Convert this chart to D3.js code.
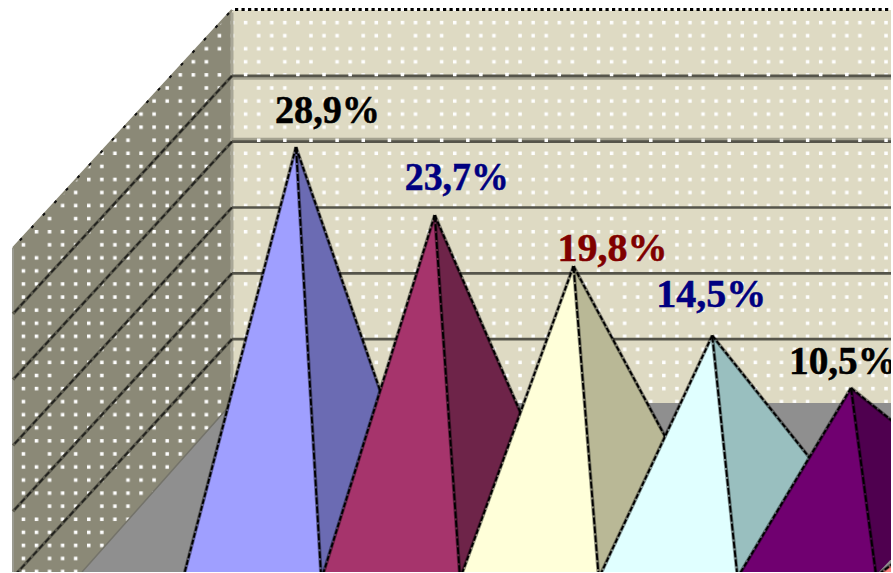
<!DOCTYPE html>
<html>
<head>
<meta charset="utf-8">
<script src="https://cdn.jsdelivr.net/npm/d3@7"></script>
<style>
  html, body { margin: 0; padding: 0; background: #fff; overflow: hidden; }
  svg { display: block; }
  text { font-family: "Liberation Serif", serif; font-weight: bold; font-size: 39px; }
</style>
</head>
<body>
<svg id="chart" width="893" height="573"></svg>
<script>
// Chart data
const slices = ["s1", "s2", "s3", "s4", "s5", "s6"];
const values = [28.9, 23.7, 19.8, 14.5, 10.5, 2.6];
const labels = ["28,9%", "23,7%", "19,8%", "14,5%", "10,5%"];
const gridTicks = [30, 25, 20, 15, 10];

// Colours
const leftFaces = ["#9f9fff", "#a6346c", "#ffffd9", "#e0ffff", "#700070", "#ff8080"];
const rightFaces = ["#6b6bb3", "#6e2449", "#b9b896", "#99bfbf", "#4f004f", "#b35a5a"];
const labelColors = ["#000000", "#000080", "#800000", "#000080", "#000000"];

// Labels were placed by hand in the original
const labelDx = [-21, -30, -16, -56, -62];
const labelDy = [-24, -25, -5, -29, -14];
const labelWidths = [105, 104, 110, 110, 108];

const width = 891, height = 572;
const svg = d3.select("#chart");
const plot = svg.append("g");

const x = d3.scalePoint().domain(slices).range([296, 989.75]);
const y = d3.scaleLinear().domain([28.9, 10.5]).range([147, 388]);
const wallY = d3.scaleLinear().domain([35, 5]).range([10, 405]);

// 3d frame
const wallLeft = 232, sideLeft = 13, sideDrop = 238, floorBack = 403;
const dotStep = 13.07;
const line = d3.line();

// Dot texture, 4 x 4 cells
const dotRows = [[0, 1, 2, 3], [1, 2, 3], [0, 1, 2, 3], [0, 1, 3]];
const pattern = svg.append("defs").append("pattern")
  .attr("id", "dots")
  .attr("patternUnits", "userSpaceOnUse")
  .attr("x", 245.6 - 1.75).attr("y", 22.6 - 1.75)
  .attr("width", dotStep * 4).attr("height", dotStep * 4);
dotRows.forEach((cols, j) => {
  pattern.selectAll(null).data(cols).enter().append("rect")
    .attr("x", k => k * dotStep).attr("y", j * dotStep)
    .attr("width", 3.5).attr("height", 3.5).attr("fill", "#fff");
});

svg.append("defs").append("clipPath").attr("id", "frame")
  .append("rect").attr("width", width).attr("height", height);
plot.attr("clip-path", "url(#frame)");

const backPts = [[wallLeft, 10], [width, 10], [width, floorBack], [wallLeft, floorBack]];
const sidePts = [[wallLeft, 10], [sideLeft, 10 + sideDrop], [sideLeft, height], [wallLeft, height]];

plot.append("path").attr("d", line(backPts) + "Z").attr("fill", "#dedac3");
plot.append("path").attr("d", line(sidePts) + "Z").attr("fill", "#8b8977");
plot.append("path").attr("d", line(backPts) + "Z").attr("fill", "url(#dots)");
plot.append("path").attr("d", line(sidePts) + "Z").attr("fill", "url(#dots)");

// Edges of the frame
plot.append("line").attr("x1", wallLeft).attr("x2", wallLeft)
  .attr("y1", 10).attr("y2", floorBack)
  .attr("stroke", "#a9a797").attr("stroke-width", 3);
plot.append("line").attr("x1", sideLeft).attr("x2", sideLeft)
  .attr("y1", 10 + sideDrop).attr("y2", height)
  .attr("stroke", "#9a9a90").attr("stroke-width", 2);
plot.append("path").attr("d", line([[wallLeft, 10], [sideLeft, 10 + sideDrop]]))
  .attr("fill", "none").attr("stroke", "#8b8977").attr("stroke-width", 2);
plot.append("path").attr("d", line([[wallLeft - 3, 13], [sideLeft, 10 + sideDrop]]))
  .attr("fill", "none").attr("stroke", "#111").attr("stroke-width", 2)
  .attr("stroke-dasharray", "3 14");
plot.append("line").attr("x1", 235).attr("x2", width).attr("y1", 9.5).attr("y2", 9.5)
  .attr("stroke", "#000").attr("stroke-width", 3).attr("stroke-dasharray", "3.2 3.3");
plot.append("rect").attr("x", 232).attr("y", 11).attr("width", width - 232).attr("height", 1.5).attr("fill", "#dedac3");

// Gridlines on back wall and side wall, the two upper ones carry a lighter band
const grid = plot.append("g");
grid.selectAll(".shade").data(gridTicks.slice(0, 2)).enter().append("line")
  .attr("x1", wallLeft).attr("x2", width)
  .attr("y1", (d, i) => wallY(d) + (i ? -2 : 2)).attr("y2", (d, i) => wallY(d) + (i ? -2 : 2))
  .attr("stroke", "#a3a18f").attr("stroke-width", 4);
grid.selectAll(".back").data(gridTicks).enter().append("line")
  .attr("x1", wallLeft).attr("x2", width)
  .attr("y1", d => wallY(d)).attr("y2", d => wallY(d))
  .attr("stroke", "#55544a").attr("stroke-width", 2.6);
grid.selectAll(".sideShade").data(gridTicks).enter().append("path")
  .attr("d", d => line([[wallLeft, wallY(d)], [sideLeft, wallY(d) + sideDrop]]))
  .attr("stroke", "#5e5d50").attr("stroke-width", 3.2).attr("fill", "none");
grid.selectAll(".side").data(gridTicks).enter().append("path")
  .attr("d", d => line([[wallLeft, wallY(d)], [sideLeft, wallY(d) + sideDrop]]))
  .attr("stroke", "#22221e").attr("stroke-width", 1.8).attr("stroke-dasharray", "6 3").attr("fill", "none");

// White dots that sit on the two upper gridlines
[[245.6, 74.6], [258.7, 140.2]].forEach(([x0, yDot]) => {
  grid.append("line").attr("x1", x0 - 1.75).attr("x2", width)
    .attr("y1", yDot).attr("y2", yDot)
    .attr("stroke", "#fff").attr("stroke-width", 3.5)
    .attr("stroke-dasharray", `3.5 ${dotStep * 2 - 3.5}`);
});

// Floor
plot.append("path")
  .attr("d", line([[wallLeft, floorBack], [width, floorBack], [width, height], [82, height]]) + "Z")
  .attr("fill", "#8f8f8f");
plot.append("path")
  .attr("d", line([[wallLeft, floorBack], [82, height]]))
  .attr("fill", "none").attr("stroke", "#74736a").attr("stroke-width", 1.5);

// Pyramids, left to right so each one covers the previous
const baseLeft = -112, baseFront = 25, baseRight = 115, rightCornerY = 480;

function edge(g, pts, dash) {
  g.append("path").attr("d", line(pts)).attr("fill", "none")
    .attr("stroke", "#000").attr("stroke-opacity", 0.4).attr("stroke-width", 3.6);
  g.append("path").attr("d", line(pts)).attr("fill", "none")
    .attr("stroke", "#000").attr("stroke-width", 1.9).attr("stroke-dasharray", dash);
}

slices.forEach((s, i) => {
  const ax = x(s), ay = y(values[i]);
  const apex = [ax, ay];
  const left = [ax + baseLeft, height + 3];
  const front = [ax + baseFront, height + 3];
  const right = [ax + baseRight, rightCornerY];
  const g = plot.append("g");
  g.append("path").attr("d", line([apex, front, right]) + "Z").attr("fill", rightFaces[i]);
  g.append("path").attr("d", line([apex, left, front]) + "Z").attr("fill", leftFaces[i]);
  edge(g, [apex, right], "5 2");
  edge(g, [apex, front], "7 2");
  edge(g, [apex, left], "5 2");
});

// Data labels
plot.selectAll(".label").data(labels).enter().append("text")
  .attr("class", "label")
  .attr("x", (d, i) => x(slices[i]) + labelDx[i])
  .attr("y", (d, i) => y(values[i]) + labelDy[i])
  .attr("textLength", (d, i) => labelWidths[i])
  .attr("lengthAdjust", "spacingAndGlyphs")
  .attr("fill", (d, i) => labelColors[i])
  .attr("stroke", (d, i) => labelColors[i])
  .attr("stroke-width", 0.5)
  .text(d => d);
</script>
</body>
</html>
